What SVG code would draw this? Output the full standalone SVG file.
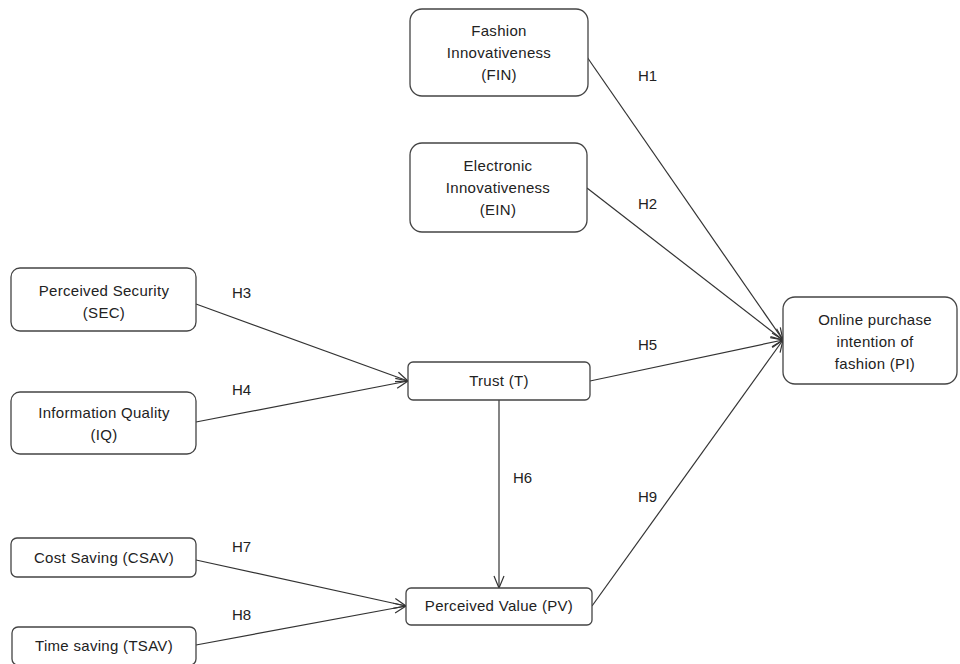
<svg xmlns="http://www.w3.org/2000/svg" width="960" height="664" viewBox="0 0 960 664">
<style>
.box{fill:#fff;stroke:#444;stroke-width:1.3}
.t{font-family:"Liberation Sans",Arial,sans-serif;font-size:15px;letter-spacing:0.3px;fill:#222;text-anchor:middle}
.l{font-family:"Liberation Sans",Arial,sans-serif;font-size:15px;fill:#222}
.c{fill:none;stroke:#333;stroke-width:1.2}
</style>
<defs>
<marker id="a" viewBox="0 0 14 12" refX="13" refY="6" markerWidth="14" markerHeight="12" markerUnits="userSpaceOnUse" orient="auto">
<path d="M1,1 L13,6 L1,11" fill="none" stroke="#333" stroke-width="1.2"/>
</marker>
</defs>
<rect width="960" height="664" fill="#fff"/>
<g id="connectors">
<line class="c" x1="587" y1="57" x2="783" y2="340" marker-end="url(#a)"/>
<line class="c" x1="587" y1="188" x2="783" y2="340" marker-end="url(#a)"/>
<line class="c" x1="590" y1="381" x2="783" y2="340" marker-end="url(#a)"/>
<line class="c" x1="592" y1="606" x2="783" y2="340" marker-end="url(#a)"/>
<line class="c" x1="196" y1="304" x2="408" y2="381" marker-end="url(#a)"/>
<line class="c" x1="196" y1="422" x2="408" y2="381" marker-end="url(#a)"/>
<line class="c" x1="499" y1="400" x2="499" y2="588" marker-end="url(#a)"/>
<line class="c" x1="196" y1="560" x2="406" y2="606" marker-end="url(#a)"/>
<line class="c" x1="196" y1="645" x2="406" y2="606" marker-end="url(#a)"/>
<text class="l" x="638" y="81">H1</text>
<text class="l" x="638" y="209">H2</text>
<text class="l" x="232" y="298">H3</text>
<text class="l" x="232" y="395">H4</text>
<text class="l" x="638" y="350">H5</text>
<text class="l" x="513" y="483">H6</text>
<text class="l" x="232" y="552">H7</text>
<text class="l" x="232" y="620">H8</text>
<text class="l" x="638" y="502">H9</text>
</g>
<g id="FIN">
<rect class="box" x="410" y="9" width="178" height="87" rx="12"/>
<text class="t" x="499" y="36">Fashion</text>
<text class="t" x="499" y="58">Innovativeness</text>
<text class="t" x="499" y="80">(FIN)</text>
</g>
<g id="EIN">
<rect class="box" x="410" y="143" width="177" height="89" rx="12"/>
<text class="t" x="498" y="171">Electronic</text>
<text class="t" x="498" y="193">Innovativeness</text>
<text class="t" x="498" y="215">(EIN)</text>
</g>
<g id="PI">
<rect class="box" x="783" y="297" width="174" height="87" rx="12"/>
<text class="t" x="875" y="325">Online purchase</text>
<text class="t" x="875" y="347">intention of</text>
<text class="t" x="875" y="369">fashion (PI)</text>
</g>
<g id="T">
<rect class="box" x="408" y="362" width="182" height="38" rx="5"/>
<text class="t" x="499" y="386">Trust (T)</text>
</g>
<g id="PV">
<rect class="box" x="406" y="588" width="186" height="37" rx="5"/>
<text class="t" x="499" y="611">Perceived Value (PV)</text>
</g>
<g id="SEC">
<rect class="box" x="11" y="268" width="185" height="63" rx="9"/>
<text class="t" x="104" y="296">Perceived Security</text>
<text class="t" x="104" y="318">(SEC)</text>
</g>
<g id="IQ">
<rect class="box" x="11" y="392" width="185" height="62" rx="9"/>
<text class="t" x="104" y="418">Information Quality</text>
<text class="t" x="104" y="440">(IQ)</text>
</g>
<g id="CSAV">
<rect class="box" x="11" y="538" width="185" height="39" rx="6"/>
<text class="t" x="104" y="563">Cost Saving (CSAV)</text>
</g>
<g id="TSAV">
<rect class="box" x="12" y="627" width="184" height="38" rx="6"/>
<text class="t" x="104" y="651">Time saving (TSAV)</text>
</g>
</svg>
